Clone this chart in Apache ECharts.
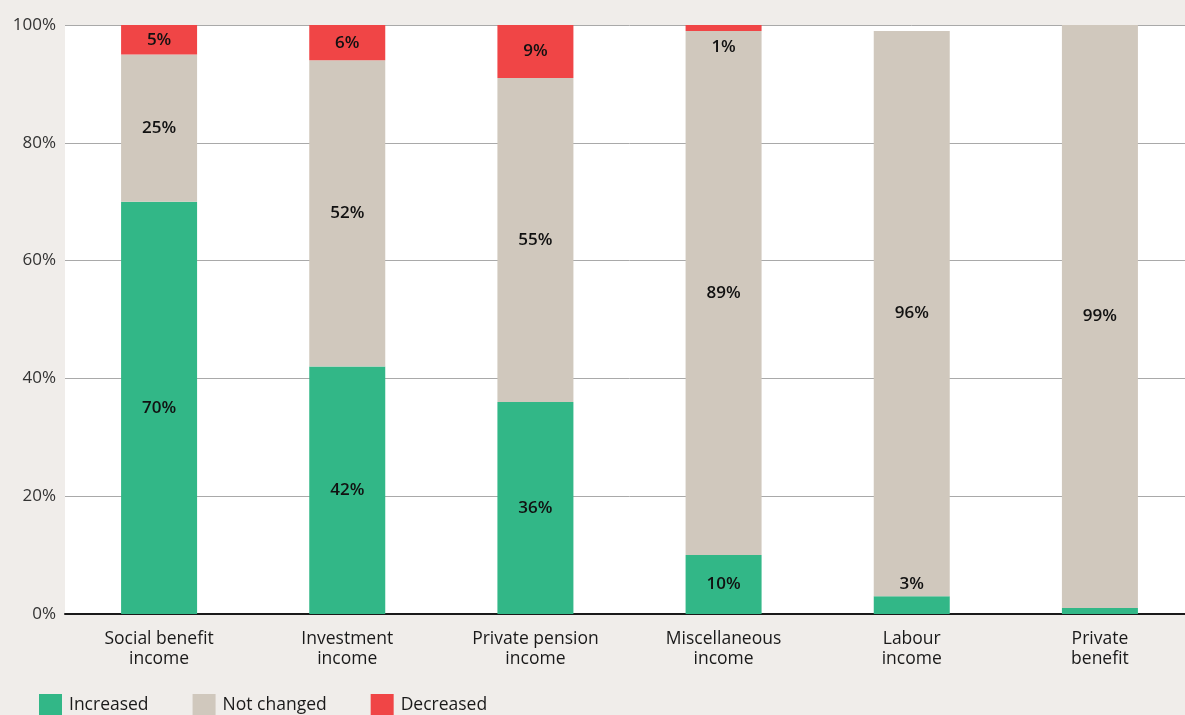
<!DOCTYPE html>
<html>
<head>
<meta charset="utf-8">
<style>
  html, body { margin: 0; padding: 0; background: #f0edea; overflow: hidden; }
  #chart { width: 1194px; height: 715px; }
</style>
<script src="https://cdn.jsdelivr.net/npm/echarts@6/dist/echarts.min.js"></script>
</head>
<body>
<div id="chart"></div>
<script>
// Share of respondents by income source and direction of change (%)
const categories = [
  'Social benefit\nincome',
  'Investment\nincome',
  'Private pension\nincome',
  'Miscellaneous\nincome',
  'Labour\nincome',
  'Private\nbenefit'
];
const increased  = [70, 42, 36, 10, 3, 1];
const notChanged = [25, 52, 55, 89, 96, 99];
const decreased  = [5, 6, 9, 1, 0, 0];
const yTicks = [0, 20, 40, 60, 80, 100];

const FONT = '"Open Sans", "Noto Sans", sans-serif';
const labelBase = {
  show: true, color: '#111111', fontSize: 17, fontWeight: 600,
  fontFamily: FONT, formatter: '{c}%'
};

// Small segments get their label pushed outside the bar, tiny ones none at all
function withLabels(values, smallPos) {
  return values.map(v => {
    if (v < 2) return { value: v, label: { show: false } };
    if (v < 4) return { value: v, label: { position: smallPos, distance: 4 } };
    return v;
  });
}

const chart = echarts.init(document.getElementById('chart'));
chart.setOption({
  backgroundColor: '#f0edea',
  animation: false,
  grid: {
    left: 65, right: 0, top: 25, bottom: 101,
    show: true, backgroundColor: '#ffffff', borderWidth: 0
  },
  legend: {
    left: 34, bottom: -7,
    itemWidth: 23, itemHeight: 23, itemGap: 44,
    icon: 'rect',
    textStyle: { color: '#1a1a1a', fontSize: 17.5, fontFamily: FONT, padding: [0, 0, 0, 2] },
    data: ['Increased', 'Not changed', 'Decreased']
  },
  xAxis: {
    type: 'category',
    data: categories,
    axisLine: { lineStyle: { color: '#1a1a1a', width: 2 } },
    axisTick: { show: false },
    axisLabel: { color: '#1a1a1a', fontSize: 17.5, fontFamily: FONT, lineHeight: 20, margin: 15 }
  },
  yAxis: {
    type: 'value',
    min: yTicks[0], max: yTicks[yTicks.length - 1], interval: 20,
    axisLine: { show: false },
    axisTick: { show: false },
    splitLine: { lineStyle: { color: '#a9a9a9', width: 1 } },
    axisLabel: { color: '#333333', fontSize: 17, fontFamily: FONT, margin: 9, formatter: '{value}%' }
  },
  series: [
    {
      name: 'Increased', type: 'bar', stack: 'total', barWidth: 76,
      itemStyle: { color: '#32b787' },
      label: Object.assign({ position: 'inside' }, labelBase),
      data: withLabels(increased, 'top')
    },
    {
      name: 'Not changed', type: 'bar', stack: 'total', barWidth: 76,
      itemStyle: { color: '#d0c8bd' },
      label: Object.assign({ position: 'inside' }, labelBase),
      data: withLabels(notChanged, 'top')
    },
    {
      name: 'Decreased', type: 'bar', stack: 'total', barWidth: 76,
      itemStyle: { color: '#f04546' },
      label: Object.assign({ position: 'inside' }, labelBase),
      data: decreased.map(v => {
        if (v === 0) return { value: v, label: { show: false } };
        if (v < 3) return { value: v, label: { position: 'bottom', distance: 8 } };
        return v;
      })
    }
  ]
});
</script>
</body>
</html>
